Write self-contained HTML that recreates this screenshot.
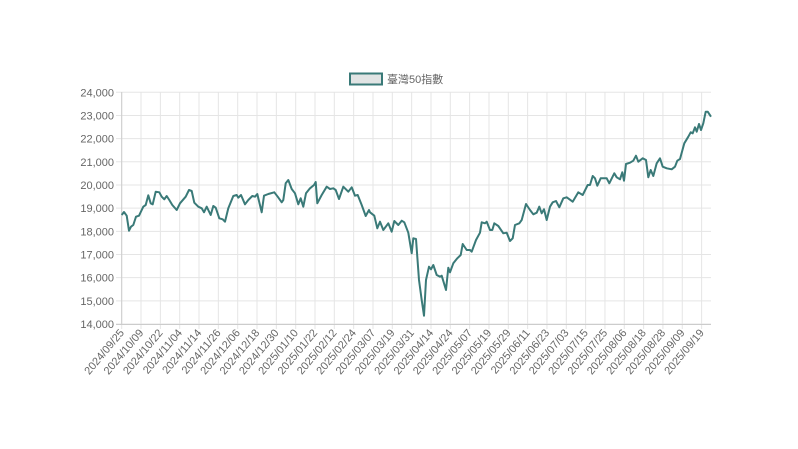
<!DOCTYPE html>
<html><head><meta charset="utf-8"><style>
html,body{margin:0;padding:0;background:#fff;width:798px;height:449px;overflow:hidden}
text{font-family:"Liberation Sans","Noto Sans CJK TC",sans-serif;fill:#666;font-size:11px}
</style></head><body>
<svg width="798" height="449" xmlns="http://www.w3.org/2000/svg">
<rect x="350" y="73.5" width="32" height="11" fill="#e1e4e4" stroke="#3a7a78" stroke-width="2"/>
<text x="387" y="83" style="font-size:11px">臺灣50指數</text>
<g id="grid" stroke="#e5e5e5" stroke-width="1"></g>
<g id="yl"></g><g id="xl"></g>
<line x1="121.7" y1="92" x2="121.7" y2="324" stroke="#ccc"/>
<line x1="116" y1="324.5" x2="711" y2="324.5" stroke="#ccc"/>
<polyline id="ln" fill="none" stroke="#3a7a78" stroke-width="2" stroke-linejoin="round"/>
</svg>
<script>
var ns="http://www.w3.org/2000/svg";
function el(t,a,p,txt){var e=document.createElementNS(ns,t);for(var k in a)e.setAttribute(k,a[k]);if(txt)e.textContent=txt;document.getElementById(p).appendChild(e);}
for(var i=0;i<=10;i++){var y=92.3+i*23.17;el('line',{x1:116,y1:y,x2:711,y2:y},'grid');
var v=24-i;el('text',{x:114,y:y+4,'text-anchor':'end'},'yl',v+',000');}
var L="2024/09/25 2024/10/09 2024/10/22 2024/11/04 2024/11/14 2024/11/26 2024/12/06 2024/12/18 2024/12/30 2025/01/10 2025/01/22 2025/02/12 2025/02/24 2025/03/07 2025/03/19 2025/03/31 2025/04/14 2025/04/24 2025/05/07 2025/05/19 2025/05/29 2025/06/11 2025/06/23 2025/07/03 2025/07/15 2025/07/25 2025/08/06 2025/08/18 2025/08/28 2025/09/09 2025/09/19".split(" ");
for(var j=0;j<L.length;j++){var x=121.7+j*19.33;el('line',{x1:x,y1:92,x2:x,y2:329},'grid');
el('text',{x:x+3,y:333,'text-anchor':'end',transform:'rotate(-50 '+(x+3)+' 333)'},'xl',L[j]);}
var P="121.7,215 124,212 126.7,215.7 129,230.7 131,226.7 133.3,225 136,216.7 139,215.7 143.3,206.7 145.7,205 148.3,195.3 150.7,203.3 152.7,204.3 155.7,191.7 159.3,192.3 161.7,196.7 164.3,199.3 166.7,196 169.3,200 172.3,205 176.7,210 180,203.3 185.7,196.7 189,190 191.7,191 194.3,202.7 198.3,206.7 201.7,208.3 204,212.3 206.7,206.7 210.7,215 213.3,206 215.7,207.7 219.3,218.3 222.7,219.3 225,221.7 228.3,208.3 233.3,196 236.7,195 238.3,197.7 241,195 245,204.3 248.3,200 252.3,196 255,196.7 257.3,194 261.7,212.3 264,195.7 268.3,194 274.3,192.3 277.7,196.7 281.7,202.3 283.3,200 285.7,183.3 288.3,180 291.7,189 295,193.3 298.3,204.3 300.7,198.3 303.3,206.7 306,193.3 310,188.3 314,185 315.7,182 317.3,203.3 321.7,195 326.7,186.7 330,189 333.3,188.3 335.7,190 339,199 343.3,186.7 348.3,191.7 351.7,187.3 355,195.7 357.7,195 361.7,205 365.7,216 369,210 370,212.3 374.3,215.7 377.3,228.3 380,221.7 383.3,230 388.3,223.3 391.7,231.7 394.3,221 398.3,225 401.7,220.7 404.3,222.3 408.3,232.7 411.7,253.3 413.3,238.3 416,239 419,280 421.7,300 424,315.7 426,280 429,266.7 431,269.3 433.3,265 436.7,275 440,276.7 441.7,275.7 446,290 448.3,267.7 450,272.3 453.3,263.3 457.3,258.3 460.7,255 462.7,244 466.7,250 470,250 471.7,251.7 476,240 480,232.7 481.7,222.3 485,223.3 486.7,221.7 490,230 492.3,230 494.3,223.3 498.3,226 503.3,233.3 506.7,232.7 510,241 512.7,238.3 515,225 519.3,223.3 521.7,220 526,204 530,210 533.3,214.3 536.7,212.7 539.3,206.7 541.7,213.3 544,209.3 546.7,220 550,206.7 552.7,202.3 556,201 559.3,207.3 563.3,198.3 566.7,197.3 572.7,201.7 578.3,192.3 582.7,195 587.7,185 590,185 592.7,176 595,178.3 597.3,185.7 600.7,178.3 606.7,178.3 609.3,183.3 614.3,173.3 616.7,177.3 620,179.3 622.3,172.3 624,180.7 626,164 630,162.7 633.3,160.7 636,155.7 638.3,161.7 642.7,158.3 646,160 648.3,177.3 650.7,170 653.3,176 656.7,163.3 660,158.3 662.7,166.7 666.7,168.3 671.7,169.3 675,166.7 677.3,160.7 680,159 684.3,143.3 688.3,136.7 690.7,132.3 692.7,133.3 695,127.3 696.7,131.7 699,124 701,130 703.3,123.3 705.7,111.7 707.7,111.7 711,116.7";
document.getElementById('ln').setAttribute('points',P);
</script>
</body></html>
